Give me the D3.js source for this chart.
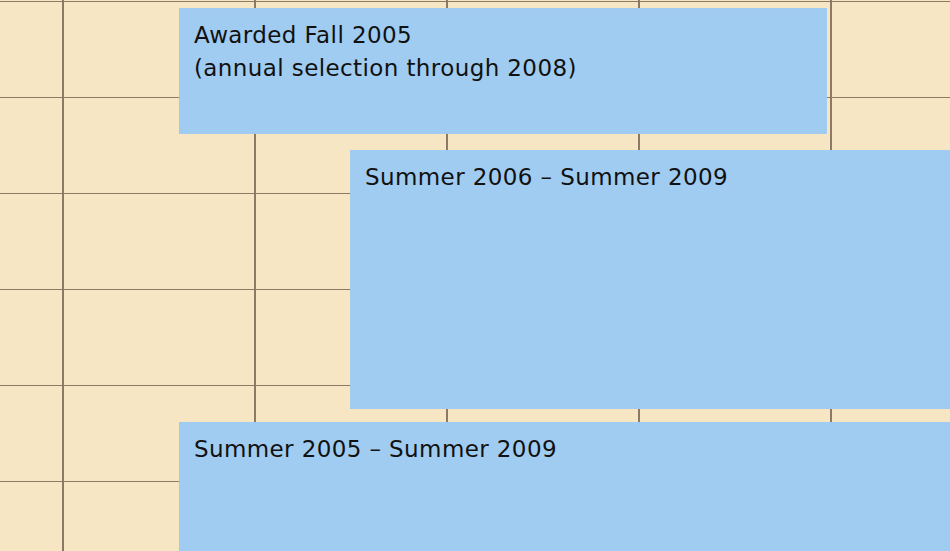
<!DOCTYPE html>
<meta charset="utf-8">
<style>
body { margin: 0; background: #f7e6c4; overflow: hidden; }
.grid line { stroke: #8e7866; stroke-width: 1.5; shape-rendering: crispEdges; }
.box rect { fill: #a0ccf1; }
.box text { font-family: "DejaVu Sans", sans-serif; font-size: 23px; letter-spacing: 0.4px; fill: #111; }
</style>
<svg width="950" height="551"></svg>
<script src="https://d3js.org/d3.v7.min.js"></script>
<script>

// grid: columns and rows of the timeline, in grid units
var columns = [-1, 0, 1, 2, 3, 4, 5];
var rows = [0, 1, 2, 3, 4, 5, 6];

// program periods: where each bar starts / ends (columns) and its rows
var labels = [
  ["Awarded Fall 2005", "(annual selection through 2008)"],
  ["Summer 2006 \u2013 Summer 2009"],
  ["Summer 2005 \u2013 Summer 2009"]
];
var startCol = [0.604, 1.495, 0.604];
var endCol   = [3.979, 5.2, 5.2];
var topRow   = [0.068, 1.547, 4.38];
var bottomRow = [1.38, 4.245, 6.2];

var svg = d3.select("svg"),
    width = +svg.attr("width"),
    height = +svg.attr("height");

var x = d3.scaleLinear().domain([0, 1]).range([63, 255]);
var y = d3.scaleLinear().domain([0, 1]).range([1.5, 97.5]);

var grid = svg.append("g").attr("class", "grid");

grid.selectAll("line.v")
  .data(columns).enter()
  .append("line").attr("class", "v")
  .attr("x1", function(d) { return x(d); })
  .attr("x2", function(d) { return x(d); })
  .attr("y1", 0)
  .attr("y2", height);

grid.selectAll("line.h")
  .data(rows).enter()
  .append("line").attr("class", "h")
  .attr("x1", 0)
  .attr("x2", width)
  .attr("y1", function(d) { return y(d); })
  .attr("y2", function(d) { return y(d); });

var data = labels.map(function(l, i) {
  return {label: l, x0: startCol[i], x1: endCol[i], y0: topRow[i], y1: bottomRow[i]};
});

var box = svg.selectAll("g.box")
  .data(data).enter()
  .append("g").attr("class", "box");

box.append("rect")
  .attr("x", function(d) { return x(d.x0); })
  .attr("y", function(d) { return y(d.y0); })
  .attr("width", function(d) { return x(d.x1) - x(d.x0); })
  .attr("height", function(d) { return y(d.y1) - y(d.y0); });

box.append("text")
  .attr("x", function(d) { return x(d.x0) + 15; })
  .attr("y", function(d) { return y(d.y0) + 35; })
  .selectAll("tspan")
  .data(function(d) { return d.label; }).enter()
  .append("tspan")
  .attr("x", function() { return this.parentNode.getAttribute("x"); })
  .attr("dy", function(d, i) { return i ? 32.5 : 0; })
  .text(function(d) { return d; });

</script>
